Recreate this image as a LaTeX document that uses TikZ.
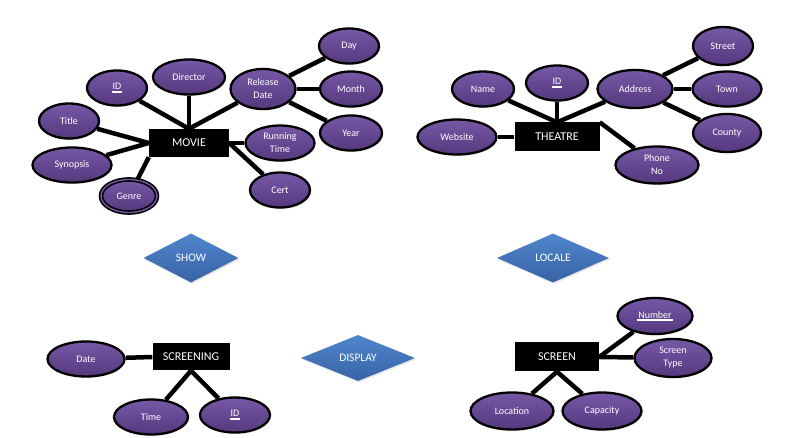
\documentclass[tikz,border=0pt]{standalone}
\usepackage{fontspec}
\setmainfont{Carlito}
\usetikzlibrary{shapes.geometric,shadows}
\definecolor{mypurple}{RGB}{118,88,166}
\definecolor{mypurpledark}{RGB}{86,56,126}
\definecolor{myblue}{RGB}{80,134,204}
\definecolor{mybluedark}{RGB}{56,98,166}
\newcommand{\pkey}[1]{\setbox0\hbox{#1}\rlap{\kern-1pt\rule[-2.8pt]{\dimexpr\wd0+2pt\relax}{1.7pt}}\box0}

\begin{document}
\begin{tikzpicture}[x=1pt,y=-1pt,
		attr/.style={ellipse, draw=black, line width=2.3pt, top color=mypurple, bottom color=mypurpledark,
			text=white, inner sep=0pt, minimum width=60pt, minimum height=35pt, align=center,
			font=\fontsize{10}{13}\selectfont,
			drop shadow={opacity=0.2, shadow xshift=1pt, shadow yshift=-1.5pt}},
		entity/.style={rectangle, fill=black, text=white, inner sep=0pt, minimum width=80pt,
			minimum height=28pt, font=\fontsize{12}{14}\selectfont},
		relation/.style={diamond, top color=myblue, bottom color=mybluedark, text=white, inner sep=0pt,
			font=\fontsize{11.5}{13}\selectfont,
			drop shadow={opacity=0.2, shadow xshift=1pt, shadow yshift=-1.5pt}},
		link/.style={black, line width=4.5pt}]
		\useasboundingbox (0,0) rectangle (788,438);
		
		%Movie
		\node[entity] (movie) at (189,143) {MOVIE};
		\node[attr] (day) at (349,46) {Day};
		\node[attr, minimum width=72pt] (director) at (189,77) {Director};
		\node[attr] (idm) at (117,88) {\pkey{ID}};
		\node[attr, minimum width=65pt, minimum height=40pt] (release) at (263,89) {Release\\Date};
		\node[attr, minimum width=62pt] (month) at (351,89) {Month};
		\node[attr] (title) at (69,121) {Title};
		\node[attr, minimum width=62pt] (year) at (351,133) {Year};
		\node[attr, minimum width=69pt] (runtime) at (280,143) {Running\\Time};
		\node[attr, minimum width=79pt] (synopsis) at (72,165) {Synopsis};
		\node[attr] (cert) at (280,190) {Cert};
		\node[attr, double=mypurple, double distance=1.4pt, line width=1.6pt, minimum width=56pt,
			minimum height=33pt] (genre) at (129,196) {Genre};
		
		\draw[link] (idm) -- (movie.north);
		\draw[link] (director) -- (movie.north);
		\draw[link] (release) -- (movie.north);
		\draw[link] (title) -- (movie.west);
		\draw[link] (synopsis) -- (movie.west);
		\draw[link] (genre) -- (movie.south west);
		\draw[link] (runtime) -- (movie.east);
		\draw[link] (cert) -- (movie.east);
		\draw[link] (day) -- (release);
		\draw[link] (month) -- (release);
		\draw[link] (year) -- (release);
		
		%Theatre
		\node[entity, minimum width=85pt, minimum height=29pt] (theatre) at (557,137) {THEATRE};
		\node[attr, minimum height=38pt] (street) at (723,46) {Street};
		\node[attr, minimum width=62pt] (name) at (483,89) {Name};
		\node[attr, minimum width=62pt] (idt) at (557,83) {\pkey{ID}};
		\node[attr, minimum width=75pt, minimum height=38pt] (address) at (635,89) {Address};
		\node[attr, minimum width=69pt] (town) at (727,89) {Town};
		\node[attr, minimum width=79pt] (website) at (457,137) {Website};
		\node[attr, minimum width=68pt, minimum height=38pt] (county) at (727,133) {County};
		\node[attr, minimum width=83pt, minimum height=37pt] (phone) at (657,165) {Phone\\No};
		
		\draw[link] (name) -- (theatre.north);
		\draw[link] (idt) -- (theatre.north);
		\draw[link] (address) -- (theatre.north);
		\draw[link] (website) -- (theatre.west);
		\draw[link] (phone) -- (theatre.north east);
		\draw[link] (street) -- (address);
		\draw[link] (town) -- (address);
		\draw[link] (county) -- (address);
		
		%Relationships
		\node[relation, minimum width=95pt, minimum height=49pt] (show) at (191,258) {SHOW};
		\node[relation, minimum width=112pt, minimum height=49pt] (locale) at (553,258) {LOCALE};
		\node[relation, minimum width=114pt, minimum height=46pt] (display) at (358,358) {DISPLAY};
		
		%Screening
		\node[entity, minimum width=77pt, minimum height=27pt] (screening) at (191,357) {SCREENING};
		\node[attr, minimum width=77pt] (date) at (86,359) {Date};
		\node[attr, minimum width=74pt] (time) at (151,417) {Time};
		\node[attr, minimum width=70pt] (ids) at (235,415) {\pkey{ID}};
		
		\draw[link] (date) -- (screening.west);
		\draw[link] (time) -- (screening.south);
		\draw[link] (ids) -- (screening.south);
		
		%Screen
		\node[entity, minimum width=84pt, minimum height=29pt] (screen) at (557,357) {SCREEN};
		\node[attr, minimum width=75pt, minimum height=36pt] (number) at (655,316) {\pkey{Number}};
		\node[attr, minimum width=77pt, minimum height=38pt] (stype) at (673,358) {Screen\\Type};
		\node[attr, minimum width=83pt, minimum height=37pt] (location) at (512,411) {Location};
		\node[attr, minimum width=79pt, minimum height=37pt] (capacity) at (602,411) {Capacity};
		
		\draw[link] (number) -- (screen.east);
		\draw[link] (stype) -- (screen.east);
		\draw[link] (location) -- (screen.south);
		\draw[link] (capacity) -- (screen.south);
		
	\end{tikzpicture}
\end{document}
